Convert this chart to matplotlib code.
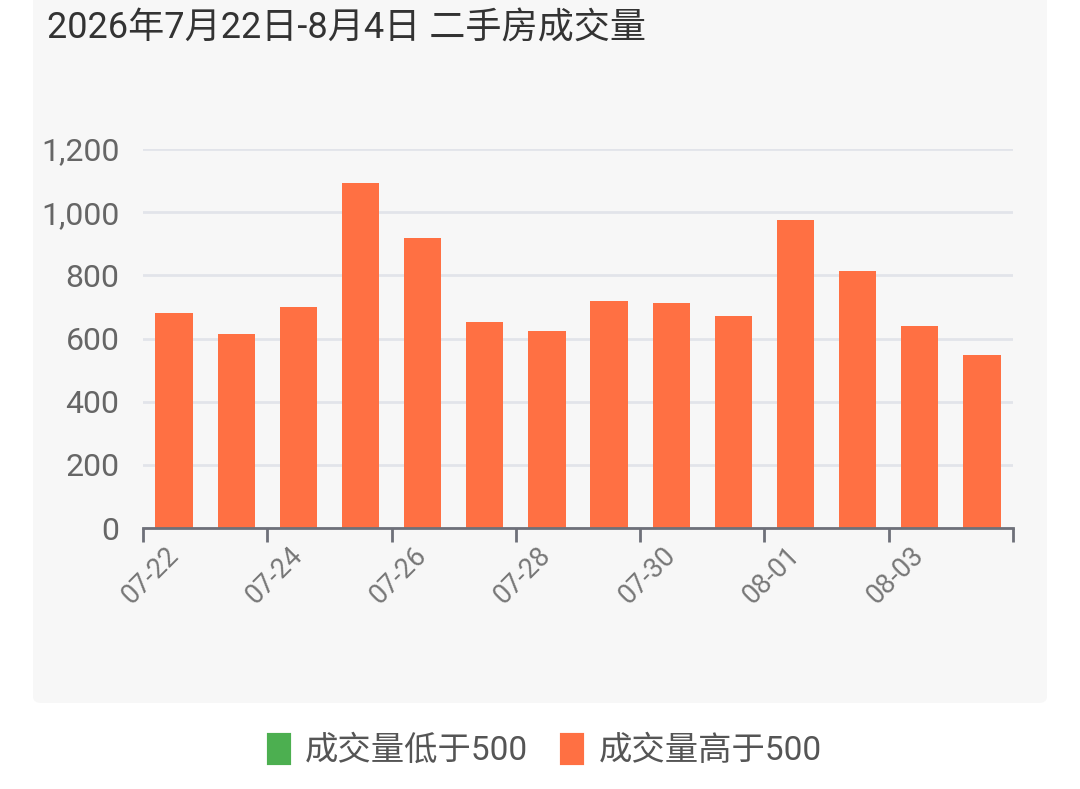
import matplotlib
matplotlib.use("Agg")
import matplotlib.pyplot as plt
from matplotlib.patches import FancyBboxPatch, Patch

dates = ["07-22", "07-23", "07-24", "07-25", "07-26", "07-27", "07-28",
         "07-29", "07-30", "07-31", "08-01", "08-02", "08-03", "08-04"]
volumes = [681, 615, 700, 1093, 918, 653, 625, 720, 713, 671, 976, 813, 639, 548]
threshold = 500
legend_labels = ["成交量低于500", "成交量高于500"]
yticks = [0, 200, 400, 600, 800, 1000, 1200]
title = "2026年7月22日-8月4日 二手房成交量"

low_color = "#4caf50"
high_color = "#ff7043"
FONT = ["Roboto", "Noto Sans CJK SC", "DejaVu Sans"]
plt.rcParams["font.family"] = FONT

W, H = 1080, 789
fig = plt.figure(figsize=(W / 100, H / 100), dpi=100)
fig.patch.set_facecolor("white")

# light panel
panel = FancyBboxPatch((33 / W, 1 - 703 / H), (1047 - 33) / W, 720 / H,
                       boxstyle="round,pad=0,rounding_size=0.008",
                       transform=fig.transFigure, facecolor="#f7f7f7",
                       edgecolor="none", zorder=-5)
fig.patches.append(panel)

fig.text(47 / W, 1 - 28 / H, title, fontsize=26, color="#333333",
         ha="left", va="center")

left, right = 143 / W, 1013 / W
bottom, top = 1 - 528 / H, 1 - 149 / H
ax = fig.add_axes([left, bottom, right - left, top - bottom])
ax.set_facecolor("none")

x = list(range(len(dates)))
colors = [low_color if v < threshold else high_color for v in volumes]
ax.bar(x, volumes, width=0.6, color=colors, zorder=3)

ax.set_xlim(-0.5, len(dates) - 0.5)
ax.set_ylim(0, 1200)
ax.set_yticks(yticks)
ax.set_yticklabels([f"{v:,}" for v in yticks])
ax.yaxis.grid(True, color="#e2e4ea", linewidth=2, zorder=0)
ax.tick_params(axis="y", length=0, pad=17, labelsize=23, labelcolor="#666666")

for s in ["top", "right", "left"]:
    ax.spines[s].set_visible(False)
ax.spines["bottom"].set_color("#6e7079")
ax.spines["bottom"].set_linewidth(2)
ax.spines["bottom"].set_zorder(4)

# labels at every other category center
lab_pos = x[::2]
ax.set_xticks(lab_pos)
ax.set_xticklabels([dates[i] for i in lab_pos], rotation=45, ha="right",
                   va="center", rotation_mode="anchor")
ax.tick_params(axis="x", length=0, pad=17, labelsize=19.5, labelcolor="#777777")
# boundary ticks
bounds = [i - 0.5 for i in range(0, len(dates) + 1, 2)]
ax.set_xticks(bounds, minor=True)
ax.tick_params(axis="x", which="minor", length=10, width=2, color="#6e7079")

handles = [Patch(facecolor=low_color, edgecolor=low_color, linewidth=3, joinstyle="round"),
           Patch(facecolor=high_color, edgecolor=high_color, linewidth=3, joinstyle="round")]
fig.legend(handles, legend_labels, loc="center", bbox_to_anchor=(545 / W, 1 - 751 / H),
           ncol=2, frameon=False, fontsize=24, handlelength=0.6, handleheight=0.9,
           handletextpad=0.5, columnspacing=1.0, labelcolor="#555555")

fig.savefig("out.png", dpi=100)
